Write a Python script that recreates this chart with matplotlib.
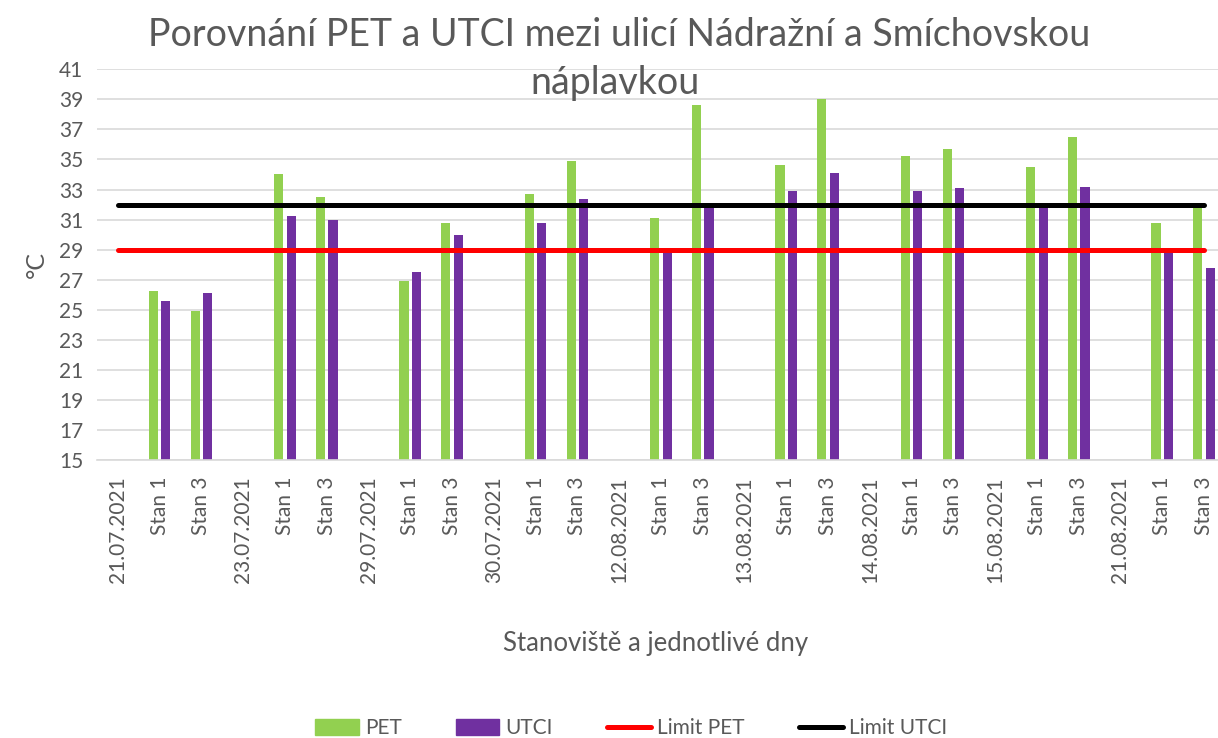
import numpy as np
import matplotlib.pyplot as plt
from matplotlib.patches import Patch
from matplotlib.lines import Line2D

plt.rcParams['font.family'] = ['Lato', 'DejaVu Sans']

# x categories: each date followed by its two stations
categories = ["21.07.2021", "Stan 1", "Stan 3",
              "23.07.2021", "Stan 1", "Stan 3",
              "29.07.2021", "Stan 1", "Stan 3",
              "30.07.2021", "Stan 1", "Stan 3",
              "12.08.2021", "Stan 1", "Stan 3",
              "13.08.2021", "Stan 1", "Stan 3",
              "14.08.2021", "Stan 1", "Stan 3",
              "15.08.2021", "Stan 1", "Stan 3",
              "21.08.2021", "Stan 1", "Stan 3"]

nan = np.nan
pet = [nan, 26.25, 24.9,
       nan, 34.0, 32.5,
       nan, 26.9, 30.8,
       nan, 32.7, 34.9,
       nan, 31.1, 38.6,
       nan, 34.6, 39.0,
       nan, 35.2, 35.7,
       nan, 34.5, 36.5,
       nan, 30.8, 31.9]
utci = [nan, 25.6, 26.1,
        nan, 31.25, 31.0,
        nan, 27.5, 30.0,
        nan, 30.8, 32.4,
        nan, 28.9, 31.9,
        nan, 32.9, 34.1,
        nan, 32.9, 33.1,
        nan, 31.8, 33.2,
        nan, 28.9, 27.8]
limit_pet = [29] * len(categories)
limit_utci = [32] * len(categories)

TEXT = '#595959'
GREEN = '#92d050'
PURPLE = '#7030a0'

fig = plt.figure(figsize=(12.18, 7.38), dpi=100)
ax = fig.add_axes([0.0796, 0.3767, 0.9261, 0.5294])

x = np.arange(len(categories))
w = 0.22
off = 0.15
ax.bar(x - off, pet, width=w, color=GREEN, zorder=2)
ax.bar(x + off, utci, width=w, color=PURPLE, zorder=2)
ax.plot(x, limit_pet, color='#ff0000', lw=3.6, solid_capstyle='round', zorder=3)
ax.plot(x, limit_utci, color='black', lw=3.6, solid_capstyle='round', zorder=3)

ax.set_xlim(-0.5, len(categories) - 0.5)
ax.set_ylim(15, 41)
ax.set_yticks(np.arange(15, 42, 2))
ax.yaxis.grid(True, color='#d9d9d9', lw=1.2, zorder=0)
ax.set_axisbelow(True)
for s in ['top', 'right', 'left']:
    ax.spines[s].set_visible(False)
ax.spines['bottom'].set_color('#d9d9d9')
ax.spines['bottom'].set_linewidth(1.2)
ax.tick_params(length=0, labelcolor=TEXT, labelsize=15)
ax.tick_params(axis='y', pad=10)
ax.set_xticks(x)
ax.set_xticklabels(categories, rotation=90)
ax.tick_params(axis='x', pad=12)

ax.set_ylabel('°C', color=TEXT, fontsize=18, labelpad=8)
fig.text(0.538, 0.128, 'Stanoviště a jednotlivé dny', color=TEXT, fontsize=18.5,
         ha='center', va='center')
fig.text(0.508, 0.952, 'Porovnání PET a UTCI mezi ulicí Nádražní a Smíchovskou',
         color=TEXT, fontsize=27, ha='center', va='center')
fig.text(0.505, 0.888, 'náplavkou', color=TEXT, fontsize=27, ha='center', va='center')

handles = [Patch(color=GREEN), Patch(color=PURPLE),
           Line2D([], [], color='#ff0000', lw=3.6, solid_capstyle='round'),
           Line2D([], [], color='black', lw=3.6, solid_capstyle='round')]
fig.legend(handles, ['PET', 'UTCI', 'Limit PET', 'Limit UTCI'], loc='center',
           bbox_to_anchor=(0.518, 0.013), ncol=4, frameon=False, fontsize=15,
           labelcolor=TEXT, handlelength=2.1, handleheight=0.8,
           handletextpad=0.3, columnspacing=2.6)

fig.savefig('out.png', dpi=100)
